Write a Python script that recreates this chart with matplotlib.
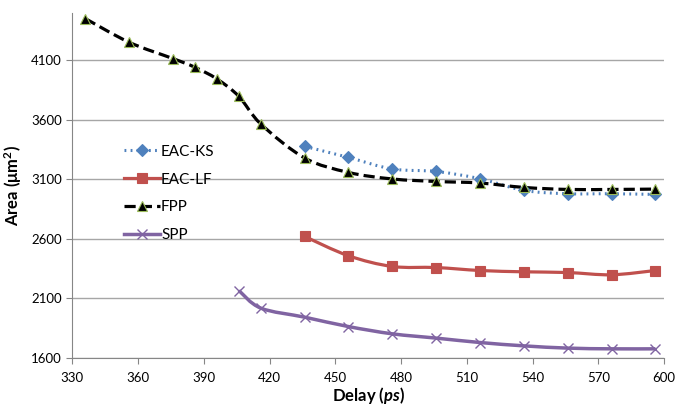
import matplotlib.pyplot as plt
from matplotlib.path import Path
from matplotlib.patches import PathPatch
from matplotlib.lines import Line2D

# valores
delay_fpp = [336, 356, 376, 386, 396, 406, 416, 436, 456, 476, 496, 516, 536, 556, 576, 596]
area_fpp = [4450, 4251, 4114, 4041, 3943, 3797, 3565, 3279, 3158, 3103, 3082, 3069, 3032, 3015, 3015, 3018]

delay_ks = [436, 456, 476, 496, 516, 536, 556, 576, 596]
area_ks = [3377, 3284, 3187, 3166, 3105, 3007, 2979, 2979, 2973]

delay_lf = [436, 456, 476, 496, 516, 536, 556, 576, 596]
area_lf = [2620, 2458, 2368, 2359, 2334, 2323, 2317, 2298, 2334]

delay_spp = [406, 416, 436, 456, 476, 496, 516, 536, 556, 576, 596]
area_spp = [2166, 2018, 1942, 1863, 1802, 1766, 1729, 1701, 1682, 1676, 1676]

xticks = [330, 360, 390, 420, 450, 480, 510, 540, 570, 600]
yticks = [1600, 2100, 2600, 3100, 3600, 4100]

plt.rcParams['font.family'] = ['Lato', 'DejaVu Sans']
plt.rcParams['mathtext.fontset'] = 'custom'
plt.rcParams['mathtext.it'] = 'Lato:bold:italic'
plt.rcParams['mathtext.rm'] = 'Lato:bold'


def curva_suave(x, y):
    # bezier estilo excel (catmull-rom)
    pts = list(zip(x, y))
    verts = [pts[0]]
    codes = [Path.MOVETO]
    n = len(pts)
    for i in range(n - 1):
        p0 = pts[i - 1] if i > 0 else pts[i]
        p1 = pts[i]
        p2 = pts[i + 1]
        p3 = pts[i + 2] if i + 2 < n else pts[i + 1]
        c1 = (p1[0] + (p2[0] - p0[0]) / 6, p1[1] + (p2[1] - p0[1]) / 6)
        c2 = (p2[0] - (p3[0] - p1[0]) / 6, p2[1] - (p3[1] - p1[1]) / 6)
        verts += [c1, c2, p2]
        codes += [Path.CURVE4] * 3
    return Path(verts, codes)


fig = plt.figure(figsize=(6.75, 4.09), dpi=100)
ax = fig.add_axes([0.107, 0.125, 0.877, 0.844])

series = [
    ('EAC-KS', delay_ks, area_ks, '#4F81BD', (0, (0.6, 1.4)), 'D', '#4F81BD', '#4F81BD', 6, 2.2),
    ('EAC-LF', delay_lf, area_lf, '#C0504D', '-', 's', '#C0504D', '#C0504D', 7, 2.3),
    ('FPP', delay_fpp, area_fpp, 'black', (0, (3.5, 1.6)), '^', 'black', '#9BBB59', 7.5, 2.3),
    ('SPP', delay_spp, area_spp, '#8064A2', '-', 'x', '#8064A2', '#8064A2', 7, 2.5),
]

handles = []
for nome, xs, ys, cor, estilo, marc, face, borda, ms, lw in series:
    patch = PathPatch(curva_suave(xs, ys), fill=False, edgecolor=cor, lw=lw,
                      linestyle=estilo, capstyle='butt', zorder=3)
    ax.add_patch(patch)
    mew = 1.0 if marc == 'x' else 0.8
    ax.plot(xs, ys, linestyle='none', marker=marc, markersize=ms, markerfacecolor=face,
            markeredgecolor=borda, markeredgewidth=mew, zorder=4)
    handles.append(Line2D([], [], color=cor, lw=lw, linestyle=estilo, marker=marc, markersize=ms,
                          markerfacecolor=face, markeredgecolor=borda, markeredgewidth=mew))

ax.set_xlim(330, 600)
ax.set_ylim(1600, 4500)
ax.set_xticks(xticks)
ax.set_yticks(yticks)
ax.tick_params(axis='both', labelsize=9.5, color='#868686', length=4)
ax.tick_params(axis='x', pad=6)
ax.grid(axis='y', color='#A6A6A6', lw=1)
ax.set_axisbelow(True)
for lado in ['top', 'right']:
    ax.spines[lado].set_visible(False)
for lado in ['left', 'bottom']:
    ax.spines[lado].set_color('#868686')

ax.set_ylabel('Area (μm$^{2}$)', fontsize=12, fontweight='bold', labelpad=5)
ax.set_xlabel('Delay ($\\mathit{ps}$)', fontsize=12, fontweight='bold', labelpad=1)

ax.legend(handles=handles, labels=[s[0] for s in series], loc='upper left',
          bbox_to_anchor=(0.065, 0.657), frameon=False, fontsize=11, handlelength=2.3,
          labelspacing=0.9, handletextpad=0.1)

plt.savefig('out.png', dpi=100)
